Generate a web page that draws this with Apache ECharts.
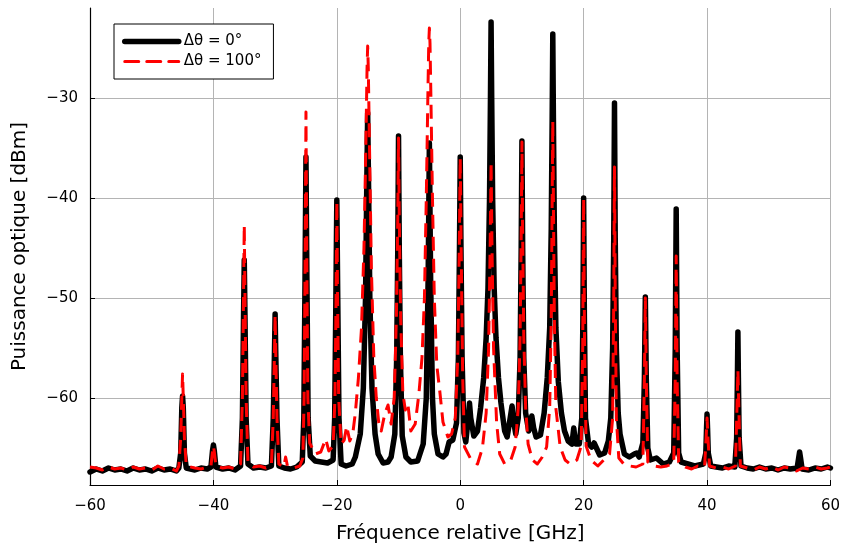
<!DOCTYPE html>
<html>
<head>
<meta charset="utf-8">
<script src="https://cdn.jsdelivr.net/npm/echarts@6/dist/echarts.min.js"></script>
<style>html,body{margin:0;padding:0;background:#fff}#c{width:843px;height:549px}</style>
</head>
<body>
<div id="c"></div>
<script>
// Series names
const seriesNames = ['Δθ = 0°', 'Δθ = 100°'];
// Axis tick labels
const xTicks = [-60, -40, -20, 0, 20, 40, 60];
const yTicks = [-60, -50, -40, -30];

// Δθ = 0° (black) : frequency [GHz] and power [dBm]
const blackFreq = [
-60,-59,-58,-57,-56,-55,-54,-53,-52,-51,-50,-49,-48,-47,-46,
-45.6,-45.3,-45.12,-45.0,-44.88,-44.7,-44.4,-43,-42,-41,
-40.4,-40.15,-40.0,-39.85,-39.6,-38.5,-37.5,-36.5,
-35.6,-35.3,-35.12,-35.0,-34.88,-34.7,-34.4,-33.5,-32.5,-31.5,
-30.6,-30.3,-30.12,-30.0,-29.88,-29.7,-29.4,-28.5,-27.5,-26.5,
-25.6,-25.35,-25.15,-25.0,-24.85,-24.65,-24.3,-23.5,-22.5,-21.5,
-20.6,-20.35,-20.15,-20.0,-19.85,-19.65,-19.3,-18.5,-17.5,-17.0,-16.2,
-15.7,-15.35,-15.15,-15.0,-14.85,-14.65,-14.3,-13.8,-13.3,-12.5,-11.7,-11.2,
-10.6,-10.3,-10.12,-10.0,-9.88,-9.7,-9.4,-8.8,-8.0,-6.9,
-6.0,-5.5,-5.2,-5.0,-4.8,-4.5,-4.2,-3.6,-2.8,-2.3,-1.8,-1.2,
-0.6,-0.3,-0.12,0,0.12,0.3,0.6,0.9,1.3,1.5,1.7,2.2,2.8,3.3,
3.8,4.2,4.5,4.75,4.9,5.0,5.1,5.25,5.5,5.8,6.2,6.6,7.2,7.6,8.1,8.4,8.7,9.0,
9.4,9.7,9.88,10.0,10.12,10.3,10.6,11.1,11.4,11.6,11.9,12.3,13.0,13.6,
14.1,14.5,14.75,14.9,15.0,15.1,15.25,15.5,15.9,16.4,16.9,17.5,18.1,18.4,18.7,19.3,
19.7,19.88,20.0,20.12,20.3,20.8,21.3,21.7,22.0,22.6,23.4,24.0,
24.4,24.7,24.88,25.0,25.12,25.3,25.6,25.9,26.6,27.4,28.2,28.6,29.0,
29.6,29.85,30.0,30.15,30.4,30.8,31.8,32.9,33.9,
34.6,34.85,35.0,35.15,35.4,35.8,36.9,38.0,39.4,
39.8,39.92,40.0,40.08,40.2,40.6,41.5,42.5,43.5,44.5,
44.8,44.92,45.0,45.08,45.2,45.5,46.5,47.5,48.5,49.5,50.5,51.5,52.5,53.5,
54.6,54.85,55.0,55.15,55.4,56.5,57.5,58.5,59.5,60
];
const blackPower = [
-67.4,-67.1,-67.3,-67.0,-67.2,-67.1,-67.3,-67.0,-67.2,-67.1,-67.3,-67.0,-67.2,-67.1,-67.3,
-67.0,-65.5,-61.0,-59.8,-61.0,-65.5,-67.0,-67.2,-67.0,-67.1,
-66.9,-65.3,-64.7,-65.3,-66.9,-67.1,-67.0,-67.2,
-66.8,-62,-52,-46.2,-52,-62,-66.6,-67.0,-66.9,-67.0,
-66.8,-62,-56,-51.6,-56,-62,-66.8,-67.0,-67.1,-66.9,
-66.4,-62,-48,-35.9,-48,-62,-65.8,-66.3,-66.4,-66.5,
-66.2,-62,-50,-40.2,-50,-62,-66.6,-66.8,-66.6,-65.9,-63.6,
-59,-50,-39,-31.5,-39,-50,-59,-63.6,-65.6,-66.5,-66.4,-65.9,
-63.6,-56,-45,-33.8,-45,-56,-63.8,-65.9,-66.4,-66.3,
-64.6,-60,-48,-34.5,-48,-60,-63.6,-65.6,-65.9,-65.6,-64.4,-64.2,
-62.5,-56,-45,-35.9,-45,-56,-63.5,-64.4,-62,-60.5,-62,-63.8,-63.3,-61,
-58,-54,-49,-40,-30,-22.4,-30,-40,-49,-54,-58,-60.5,-63.3,-63.9,-62,-60.8,-62.5,-63.6,
-62,-56,-45,-34.3,-45,-56,-61.5,-63.3,-62.5,-61.8,-63,-63.9,-63.7,-61.5,
-58,-53,-43,-32,-23.6,-32,-43,-53,-58.4,-61.5,-63.3,-64.3,-64.6,-63,-64.6,-64.6,
-62,-52,-40.0,-52,-62,-64.6,-64.9,-64.5,-64.9,-65.7,-65.5,-64.3,
-62,-55,-44,-30.5,-44,-55,-61.5,-63.6,-65.6,-65.9,-65.6,-65.5,-65.9,
-64.5,-58,-49.9,-58,-65,-66.2,-66.0,-66.6,-66.4,
-65.5,-55,-41.1,-55,-65.5,-66.4,-66.6,-66.8,-66.6,
-65.5,-63,-61.6,-63,-65.5,-66.8,-66.9,-67.0,-66.8,-66.9,
-64,-58,-53.4,-58,-64,-66.8,-67.0,-67.1,-66.9,-67.1,-67.0,-67.2,-67.0,-67.1,
-67.0,-66,-65.4,-66,-67.1,-67.2,-67.0,-67.1,-66.9,-67.0
];

// Δθ = 100° (red dashed) : frequency [GHz] and power [dBm]
const redFreq = [
-60,-59,-58,-57,-56,-55,-54,-53,-52,-51,-50,-49,-48,-47,-46,
-45.6,-45.3,-45.12,-45.0,-44.88,-44.7,-44.4,-43,-42,-41,
-40.4,-40.15,-40.0,-39.85,-39.6,-38.5,-37.5,-36.5,
-35.6,-35.3,-35.12,-35.0,-34.88,-34.7,-34.4,-33.5,-32.5,-31.5,
-30.6,-30.3,-30.12,-30.0,-29.88,-29.7,-29.4,-28.6,-28.3,-28.0,-27,-26,
-25.5,-25.3,-25.12,-25.0,-24.88,-24.7,-24.4,-23.5,-22.6,-21.8,-21.3,
-20.6,-20.3,-20.12,-20.0,-19.88,-19.7,-19.3,-18.8,-18.4,-17.9,-17.4,-17.0,
-16.5,-16.0,-15.6,-15.3,-15.1,-15.0,-14.9,-14.7,-14.4,-14.0,-13.6,-13.2,-12.8,-12.2,-11.7,-11.2,
-10.7,-10.35,-10.12,-10.0,-9.88,-9.65,-9.3,-8.9,-8.5,-8.0,-7.3,
-6.7,-6.2,-5.8,-5.5,-5.25,-5.1,-5.0,-4.9,-4.75,-4.5,-4.2,-3.8,-3.3,-2.8,-2.0,-1.4,
-0.8,-0.4,-0.15,0,0.15,0.4,0.7,1.7,2.8,3.6,
4.2,4.6,4.85,5.0,5.15,5.4,5.9,6.4,7.2,8.2,8.9,
9.4,9.7,9.88,10.0,10.12,10.3,10.6,11.0,11.7,12.5,13.3,14.0,
14.5,14.75,14.9,15.0,15.1,15.25,15.5,16.2,17.0,17.8,18.9,
19.6,19.85,20.0,20.15,20.4,21.2,22.3,23.1,24.2,
24.7,24.88,25.0,25.12,25.3,25.7,26.5,27.5,28.5,
29.6,29.85,30.0,30.15,30.4,31.5,32.5,33.5,
34.6,34.85,35.0,35.15,35.4,36.5,37.5,38.5,
39.6,39.85,40.0,40.15,40.4,41.5,42.5,43.5,
44.6,44.85,45.0,45.15,45.4,46.5,47.5,48.5,49.5,50.5,51.5,52.5,53.5,54.5,55.5,56.5,57.5,58.5,59.5,60
];
const redPower = [
-66.9,-67.0,-67.2,-66.9,-67.1,-67.0,-67.2,-66.9,-67.1,-67.0,-67.2,-66.8,-67.1,-67.0,-67.3,
-66.8,-64,-60,-57.6,-60,-64,-66.8,-67.0,-67.1,-66.9,
-66.8,-65.4,-64.8,-65.4,-66.8,-67.0,-66.9,-67.1,
-66.6,-60,-50,-42.7,-50,-60,-66.5,-66.9,-66.8,-67.0,
-66.7,-62,-56,-51.7,-56,-62,-66.6,-66.9,-65.9,-66.8,-67.0,-66.8,
-66.0,-60,-45,-31.4,-45,-60,-64.5,-65.6,-65.4,-64.1,-65.3,
-64.8,-60,-50,-40.3,-50,-60,-64.6,-64.2,-62.8,-64.3,-63.5,-61.5,
-58,-53,-45,-35,-27,-24.8,-27,-35,-47,-56,-60,-62.5,-63.3,-61.5,-60.7,-62.6,
-60,-52,-42,-34.0,-42,-52,-59.5,-61.2,-60.5,-63.3,-62.6,
-59.6,-56,-50,-40,-30,-24.5,-23.0,-24.5,-30,-40,-50,-56.7,-59.4,-62.4,-63.9,-63.6,
-62,-56,-45,-36.0,-45,-58,-64.9,-66.1,-66.6,-65.0,
-61.5,-55,-45,-36.4,-45,-55,-62.5,-65.6,-66.6,-66.2,-64.9,
-61,-54,-44,-34.4,-44,-54,-61,-64.6,-66.2,-66.6,-65.9,-64.9,
-61,-52,-40,-32.3,-40,-52,-61,-64.9,-66.2,-66.6,-66.2,
-64.8,-55,-40.1,-55,-64.8,-66.2,-66.8,-66.3,-65.6,
-62,-50,-36.9,-50,-62,-66.0,-66.6,-66.8,-66.9,
-66.6,-58,-50.0,-58,-66.4,-66.8,-66.9,-66.8,
-66.5,-58,-45.8,-58,-66.4,-66.9,-67.1,-66.8,
-66.9,-64,-62.0,-64,-66.8,-67.0,-66.9,-67.1,
-66.8,-61,-57.2,-61,-66.8,-67.0,-67.2,-66.9,-67.1,-66.9,-67.2,-66.9,-67.0,-67.3,-67.0,-67.1,-66.9,-67.1,-67.0,-66.9
];

const blackData = blackFreq.map((f, i) => [f, blackPower[i]]);
const redData = redFreq.map((f, i) => [f, redPower[i]]);

const FONT = 'DejaVu Sans';
const fmt = v => (v < 0 ? '\u2212' + Math.abs(v) : String(v));

const chart = echarts.init(document.getElementById('c'), null, {renderer: 'canvas'});
chart.setOption({
  animation: false,
  backgroundColor: '#ffffff',
  grid: {left: 90, right: 8, top: 8, bottom: 57, containLabel: false},
  legend: {
    show: true,
    left: 114, top: 24,
    orient: 'vertical',
    backgroundColor: '#fff',
    borderColor: '#000', borderWidth: 1, borderRadius: 0,
    padding: [10, 12, 10, 8],
    itemGap: 5,
    itemWidth: 54, itemHeight: 14,
    itemStyle: {opacity: 0, borderWidth: 0},
    lineStyle: {width: 'inherit', type: 'inherit', cap: 'round'},
    textStyle: {fontFamily: FONT, fontSize: 15, color: '#000'},
    data: seriesNames
  },
  xAxis: {
    type: 'value', min: -60, max: 60, interval: 20,
    axisLine: {show: true, onZero: false, lineStyle: {color: '#000', width: 1.2}},
    axisTick: {show: true, inside: true, length: 5, lineStyle: {color: '#000'}},
    axisLabel: {fontFamily: FONT, fontSize: 15, color: '#000', margin: 14, formatter: fmt, customValues: xTicks},
    splitLine: {show: true, lineStyle: {color: '#b4b4b4', width: 1}},
    name: 'Fréquence relative [GHz]', nameLocation: 'middle', nameGap: 39,
    nameTextStyle: {fontFamily: FONT, fontSize: 20, color: '#000'}
  },
  yAxis: {
    type: 'value', min: -68.7, max: -21.0,
    axisLine: {show: true, onZero: false, lineStyle: {color: '#000', width: 1.2}},
    axisTick: {show: true, inside: true, length: 5, lineStyle: {color: '#000'}, customValues: yTicks},
    axisLabel: {fontFamily: FONT, fontSize: 15, color: '#000', margin: 12, formatter: fmt, customValues: yTicks},
    splitLine: {show: true, lineStyle: {color: '#b4b4b4', width: 1}},
    name: 'Puissance optique [dBm]', nameLocation: 'middle', nameGap: 60,
    nameTextStyle: {fontFamily: FONT, fontSize: 20, color: '#000'}
  },
  series: [
    {
      name: seriesNames[0], type: 'line', data: blackData,
      showSymbol: false, symbol: 'none', clip: true,
      color: '#000',
      lineStyle: {color: '#000', width: 5.5, cap: 'round', join: 'round'},
      z: 2
    },
    {
      name: seriesNames[1], type: 'line', data: redData,
      showSymbol: false, symbol: 'none', clip: true,
      color: '#ff0000',
      lineStyle: {color: '#ff0000', width: 3, type: [14, 8], join: 'round'},
      z: 3
    }
  ]
});
</script>
</body>
</html>
